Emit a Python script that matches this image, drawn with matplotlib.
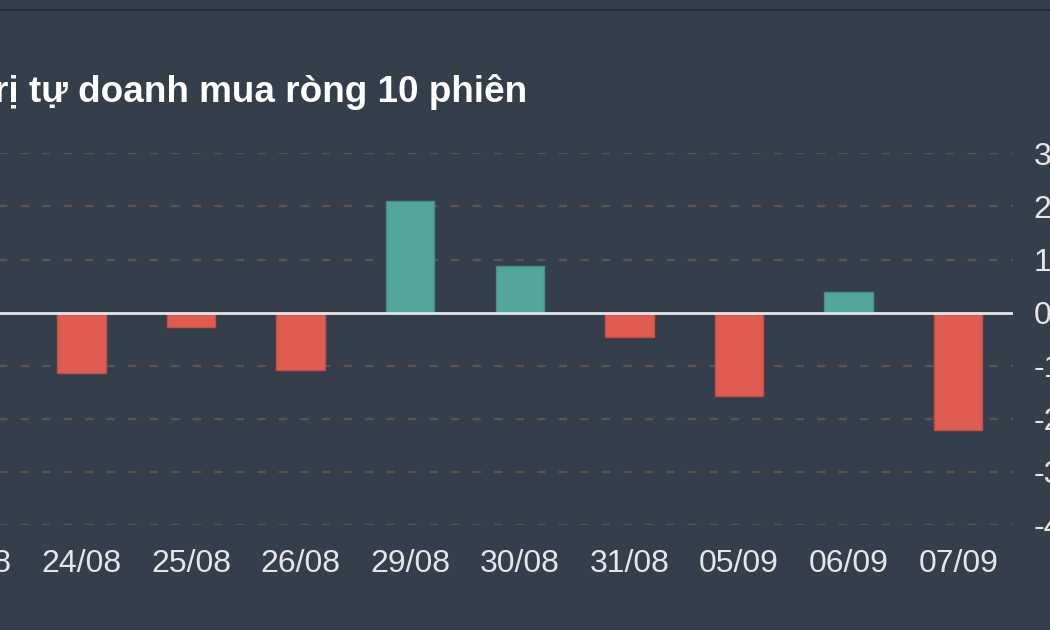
import matplotlib
matplotlib.use("Agg")
import matplotlib.pyplot as plt
from matplotlib.lines import Line2D

# phiên giao dịch (23/08 nằm ngoài khung cắt, chỉ thấy chữ "8")
ngay = ["23/08", "24/08", "25/08", "26/08", "29/08", "30/08",
        "31/08", "05/09", "06/09", "07/09"]
gia_tri = [-50, -114, -28, -109, 210, 87, -46, -158, 39, -221]
y_ticks = [300, 200, 100, 0, -100, -200, -300, -400]
tieu_de = "Giá trị tự doanh mua ròng 10 phiên"

nen = "#353f4b"
do = "#e05c52"
xanh = "#52a79a"

plt.rcParams["font.family"] = ["Liberation Sans", "DejaVu Sans"]
plt.rcParams["lines.scale_dashes"] = False

W, H = 1050, 630
fig = plt.figure(figsize=(W / 100, H / 100), dpi=100, facecolor=nen)

# vùng vẽ: tràn ra ngoài mép trái của ảnh
left_px, right_px = -83, 1013
bottom_px, top_px = 525, 153.3
ax = fig.add_axes([left_px / W, 1 - bottom_px / H,
                   (right_px - left_px) / W, (bottom_px - top_px) / H])
ax.set_facecolor(nen)

x = range(len(ngay))
mau = [xanh if v >= 0 else do for v in gia_tri]
vien = ["#468f84" if v >= 0 else "#c24f47" for v in gia_tri]
ax.bar(x, gia_tri, width=0.44, color=mau, edgecolor=vien, linewidth=1, zorder=3)

ax.set_xlim(-0.5, len(ngay) - 0.5)
ax.set_ylim(-400, 300)
ax.set_yticks(y_ticks)
ax.set_yticklabels([str(t) for t in y_ticks])
ax.set_xticks(list(x))
ax.set_xticklabels(ngay)

for t in y_ticks:
    if t == 0:
        ax.axhline(0, color="#e6e6e6", lw=2, zorder=4)
    else:
        ax.axhline(t, color="#605448", lw=1.6, dashes=(6, 9.5), zorder=1)

ax.yaxis.tick_right()
ax.tick_params(axis="y", length=0, pad=15, labelsize=23, labelcolor="#e6e6e6")
ax.tick_params(axis="x", length=0, pad=17, labelsize=23, labelcolor="#e6e6e6")
for s in ax.spines.values():
    s.set_visible(False)

fig.text(527 / W, 1 - 102 / H, tieu_de, ha="right", va="baseline",
         fontsize=26.6, fontweight="bold", color="#ffffff")

fig.add_artist(Line2D([0, 1], [1 - 10 / H, 1 - 10 / H], color="#262d35", lw=1.6,
                      transform=fig.transFigure))

fig.savefig("out.png", dpi=100, facecolor=nen)
